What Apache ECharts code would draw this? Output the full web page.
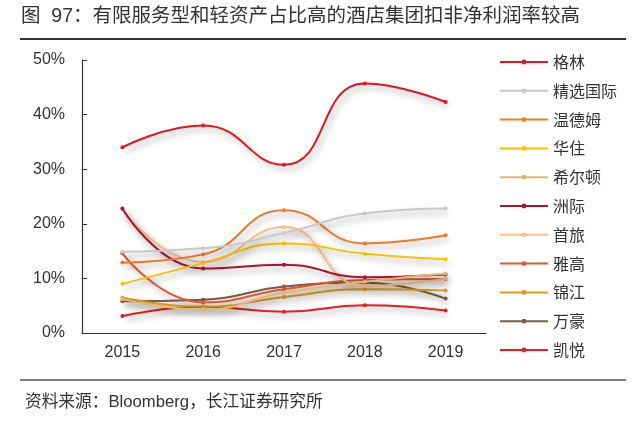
<!DOCTYPE html>
<html>
<head>
<meta charset="utf-8">
<script src="https://cdn.jsdelivr.net/npm/echarts@6/dist/echarts.min.js"></script>
<style>
html,body{margin:0;padding:0;background:#fff;}
#chart{width:641px;height:425px;}
</style>
</head>
<body>
<div id="chart"></div>
<script>
var years = ['2015', '2016', '2017', '2018', '2019'];
var yTicks = [0, 10, 20, 30, 40, 50];
var seriesNames = ['格林', '精选国际', '温德姆', '华住', '希尔顿', '洲际', '首旅', '雅高', '锦江', '万豪', '凯悦'];
var gelin    = [34.0, 38.0, 30.8, 45.7, 42.3];
var jingxuan = [14.9, 15.5, 18.3, 21.9, 22.8];
var wendemu  = [12.9, 14.4, 22.5, 16.4, 17.9];
var huazhu   = [9.0, 12.8, 16.4, 14.5, 13.5];
var xierdun  = [6.2, 4.3, 7.4, 9.4, 10.9];
var zhouji   = [22.8, 11.8, 12.5, 10.2, 10.7];
var shoulv   = [22.6, 13.0, 19.4, 8.6, 10.0];
var yagao    = [14.6, 5.6, 8.0, 9.7, 9.9];
var jinjiang = [6.5, 4.8, 6.6, 8.0, 7.8];
var wanhao   = [5.8, 6.1, 8.5, 9.2, 6.3];
var kaiyue   = [3.1, 4.8, 3.9, 5.1, 4.1];
var seriesData = [gelin, jingxuan, wendemu, huazhu, xierdun, zhouji, shoulv, yagao, jinjiang, wanhao, kaiyue];
var colors = ['#e8141b', '#c9c9c9', '#f47a20', '#ffc000', '#e2b973', '#b3122c', '#f9c08a', '#e0582e', '#e39b14', '#7d5a4a', '#ee1c1c'];

var chart = echarts.init(document.getElementById('chart'));
var series = seriesNames.map(function (n, i) {
  return {
    name: n,
    type: 'line',
    data: seriesData[i],
    smooth: 0.5,
    symbol: 'circle',
    symbolSize: 4,
    z: 20 - i,
    itemStyle: { color: colors[i] },
    lineStyle: {
      width: 2,
      color: colors[i],
      shadowColor: 'rgba(0,0,0,0.35)',
      shadowBlur: 6,
      shadowOffsetX: 3,
      shadowOffsetY: 4
    }
  };
});

chart.setOption({
  animation: false,
  backgroundColor: '#fff',
  color: colors,
  textStyle: { fontFamily: 'Liberation Sans, Noto Sans CJK SC, sans-serif' },
  graphic: [
    { type: 'text', left: 21, top: 7, style: { text: '图  97：有限服务型和轻资产占比高的酒店集团扣非净利润率较高', font: '19.5px "Liberation Sans", "Noto Sans CJK SC", sans-serif', fill: '#333' } },
    { type: 'line', shape: { x1: 20, y1: 39, x2: 626, y2: 39 }, style: { stroke: '#333', lineWidth: 2 } },
    { type: 'line', shape: { x1: 20, y1: 380, x2: 626, y2: 380 }, style: { stroke: '#555', lineWidth: 1.5 } },
    { type: 'text', left: 25, top: 394, style: { text: '资料来源：Bloomberg，长江证券研究所', font: '16.7px "Liberation Sans", "Noto Sans CJK SC", sans-serif', fill: '#333' } }
  ],
  legend: {
    orient: 'vertical',
    left: 499,
    top: 54,
    padding: 0,
    itemWidth: 48,
    itemHeight: 6,
    itemGap: 12.8,
    data: seriesNames,
    textStyle: { fontSize: 16, color: '#333', fontFamily: 'Noto Sans CJK SC, sans-serif' },
    lineStyle: { shadowBlur: 0, shadowOffsetX: 0, shadowOffsetY: 0, shadowColor: 'rgba(0,0,0,0)' }
  },
  grid: { left: 82, top: 60, width: 404, height: 273, containLabel: false },
  xAxis: {
    type: 'category',
    data: years,
    boundaryGap: true,
    axisLine: { lineStyle: { color: '#333', width: 1.2 } },
    axisTick: { inside: true, length: 6, lineStyle: { color: '#333' } },
    axisLabel: { fontSize: 16, color: '#333', margin: 12 },
    splitLine: { show: false }
  },
  yAxis: {
    type: 'value',
    min: yTicks[0],
    max: yTicks[yTicks.length - 1],
    interval: 10,
    axisLine: { show: true, lineStyle: { color: '#333', width: 1.2 } },
    axisTick: { show: true, inside: true, length: 5, lineStyle: { color: '#333' } },
    axisLabel: { fontSize: 16, color: '#333', margin: 17, formatter: '{value}%' },
    splitLine: { show: false }
  },
  series: series
});
</script>
</body>
</html>
